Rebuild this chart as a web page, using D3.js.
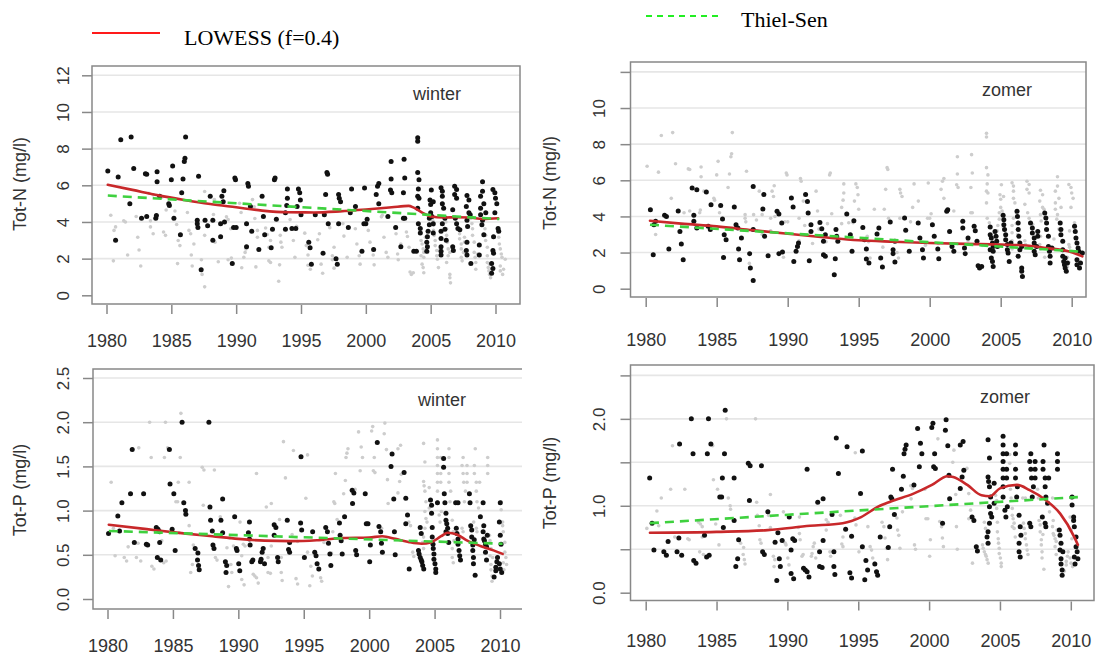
<!DOCTYPE html>
<html>
<head>
<meta charset="utf-8">
<script src="https://cdn.jsdelivr.net/npm/d3@7"></script>
<style>
  html, body { margin: 0; padding: 0; background: #fff; }
  svg { display: block; }
</style>
</head>
<body>
<svg id="chart" width="1101" height="657"></svg>
<script>
// ---------------- DATA ----------------
const yearTicks = [1980, 1985, 1990, 1995, 2000, 2005, 2010];
const nTicks = [0, 2, 4, 6, 8, 10, 12];
const pTicks = [0, 0.5, 1, 1.5, 2, 2.5];
const seasonLabels = ["winter", "zomer"];
const yTitles = ["Tot-N (mg/l)", "Tot-P (mg/l)"];
const legendLabels = ["LOWESS (f=0.4)", "Thiel-Sen"];

const winterN = [[1980.1,6.78],[1980.7,3.0],[1980.9,6.45],[1981.1,8.48],[1981.8,5.0],[1981.9,8.64],[1982.1,6.92],[1982.7,4.2],[1983.0,6.63],[1983.1,6.6],[1983.1,4.3],[1983.8,4.2],[1983.85,4.35],[1983.9,6.2],[1983.9,6.74],[1984.1,5.4],[1984.8,5.0],[1984.85,4.9],[1985.0,6.3],[1985.1,7.05],[1985.2,4.2],[1985.7,3.3],[1985.8,5.6],[1985.9,6.35],[1986.0,7.3],[1986.05,7.47],[1986.1,8.64],[1987.0,4.1],[1987.0,3.9],[1987.05,3.7],[1987.1,6.5],[1987.3,1.4],[1987.6,4.1],[1987.8,3.8],[1988.0,5.4],[1988.2,4.1],[1988.2,3.0],[1988.8,3.9],[1988.9,5.4],[1989.0,5.1],[1989.05,5.7],[1988.8,3.2],[1989.1,4.0],[1989.7,1.74],[1989.8,3.7],[1990.0,3.7],[1989.9,6.4],[1989.95,6.3],[1990.8,3.9],[1990.8,2.65],[1990.9,6.1],[1990.95,5.95],[1991.1,4.85],[1991.2,3.5],[1991.75,2.5],[1992.0,5.4],[1992.1,4.3],[1992.2,3.3],[1992.7,2.6],[1992.8,3.6],[1992.95,6.3],[1993.0,6.4],[1993.1,4.15],[1993.8,4.5],[1993.9,4.9],[1993.95,5.3],[1993.95,5.8],[1993.8,3.6],[1994.3,3.65],[1994.6,3.65],[1994.7,4.85],[1994.8,5.8],[1994.9,5.6],[1994.95,5.2],[1995.0,4.4],[1995.6,2.9],[1995.7,2.6],[1995.8,1.7],[1996.1,4.4],[1996.7,2.3],[1996.8,4.4],[1996.9,5.5],[1997.0,6.7],[1997.05,6.6],[1997.1,3.9],[1997.7,2.0],[1997.8,1.7],[1997.9,3.9],[1997.9,5.5],[1997.95,5.3],[1998.05,5.1],[1998.65,3.7],[1998.8,4.5],[1998.9,5.8],[1999.2,4.85],[1999.7,2.4],[1999.85,3.9],[1999.9,5.85],[2000.0,3.9],[2000.1,4.15],[2000.6,2.5],[2000.8,5.5],[2000.9,5.95],[2001.0,6.1],[2001.0,5.0],[2001.7,4.3],[2001.9,5.75],[2001.95,6.35],[2001.95,7.3],[2002.0,5.6],[2002.3,3.7],[2002.7,2.65],[2002.9,4.2],[2003.0,4.2],[2002.95,7.42],[2003.0,6.4],[2002.9,5.6],[2003.7,2.4],[2003.9,2.4],[2004.0,8.6],[2004.0,8.4],[2004.0,6.7],[2004.1,6.3],[2004.05,5.8],[2004.0,5.4],[2004.1,5.3],[2004.0,4.75],[2004.05,3.9],[2004.2,3.65],[2004.2,3.4],[2004.7,2.4],[2004.75,2.65],[2004.7,2.9],[2004.75,3.2],[2004.8,3.5],[2004.9,3.85],[2004.9,4.2],[2005.0,4.5],[2005.0,4.95],[2004.95,5.2],[2005.05,5.75],[2005.2,5.1],[2005.1,4.3],[2005.2,3.9],[2005.2,3.4],[2005.8,5.86],[2005.9,5.68],[2005.9,5.4],[2005.9,5.0],[2006.0,4.75],[2006.1,4.2],[2005.9,3.9],[2005.8,3.5],[2005.8,3.1],[2005.8,2.65],[2005.8,2.4],[2005.8,2.2],[2006.1,3.6],[2006.2,3.0],[2006.85,5.95],[2007.0,5.77],[2006.85,5.5],[2007.0,5.3],[2006.7,4.67],[2006.9,4.2],[2007.0,3.9],[2007.1,3.65],[2006.7,2.65],[2006.75,2.45],[2007.25,3.57],[2007.8,5.45],[2007.95,5.2],[2007.75,4.85],[2007.95,4.5],[2007.8,4.1],[2007.85,3.75],[2007.8,2.9],[2007.75,2.45],[2007.8,2.2],[2008.1,1.74],[2008.05,4.4],[2009.0,6.2],[2009.0,5.68],[2008.85,5.4],[2009.1,5.0],[2008.85,4.75],[2008.85,4.4],[2009.0,4.1],[2008.95,3.85],[2009.1,3.3],[2008.75,2.75],[2008.75,2.2],[2009.25,4.5],[2009.8,5.77],[2009.95,5.6],[2010.0,5.3],[2010.1,5.0],[2009.95,4.5],[2010.2,3.65],[2010.25,3.5],[2009.85,3.2],[2009.8,2.45],[2009.85,2.3],[2009.7,1.74],[2009.8,1.46],[2009.7,1.2]];

const zomerN = [[1980.33,4.37],[1980.53,1.88],[1980.58,3.54],[1980.7,3.73],[1981.33,4.06],[1981.46,4.0],[1981.63,2.2],[1982.29,4.3],[1982.41,3.17],[1982.51,2.47],[1982.64,1.6],[1983.27,5.57],[1983.6,5.48],[1983.39,4.06],[1983.39,3.73],[1983.6,3.36],[1984.27,5.35],[1984.6,4.65],[1984.4,3.45],[1984.55,3.27],[1985.28,4.6],[1985.41,3.86],[1985.53,2.99],[1985.66,2.71],[1985.48,1.73],[1986.24,4.52],[1986.36,3.54],[1986.49,3.36],[1986.54,2.2],[1986.61,1.6],[1986.74,2.8],[1987.32,1.94],[1987.37,1.14],[1987.57,0.46],[1987.57,5.66],[1987.57,3.27],[1988.32,5.22],[1988.25,4.41],[1988.37,2.9],[1988.62,1.83],[1989.25,4.28],[1989.38,4.13],[1989.58,3.63],[1989.38,1.94],[1989.63,2.03],[1990.26,5.02],[1990.38,4.52],[1990.43,1.5],[1990.59,2.07],[1990.69,2.34],[1990.76,2.53],[1991.26,5.22],[1991.39,4.83],[1991.44,4.19],[1991.52,1.55],[1991.64,3.54],[1991.64,3.17],[1992.27,3.67],[1992.4,3.32],[1992.52,2.62],[1992.65,1.79],[1992.52,1.88],[1992.65,2.99],[1993.28,0.77],[1993.4,3.27],[1993.45,2.9],[1993.35,1.66],[1993.53,2.62],[1994.16,4.13],[1994.41,2.99],[1994.53,2.07],[1994.66,3.76],[1995.29,3.39],[1995.41,2.71],[1995.54,2.2],[1995.54,1.64],[1995.72,1.42],[1996.29,3.03],[1996.42,3.36],[1996.55,1.7],[1996.67,1.2],[1997.22,3.69],[1997.42,2.16],[1997.42,1.94],[1997.55,1.48],[1997.55,2.62],[1998.23,3.91],[1998.31,3.23],[1998.56,2.07],[1999.19,3.63],[1999.31,2.8],[1999.49,2.16],[1999.56,1.7],[2000.19,3.54],[2000.32,2.9],[2000.57,2.2],[2000.64,1.66],[2001.2,4.28],[2001.27,4.37],[2001.4,3.17],[2001.57,2.34],[2001.7,2.07],[2002.33,3.73],[2002.33,3.36],[2002.45,2.25],[2002.5,1.94],[2002.7,2.8],[2003.13,3.45],[2003.21,3.21],[2003.33,2.62],[2003.41,1.27],[2003.51,1.14],[2003.66,1.23],[2004.26,3.41],[2004.26,2.99],[2004.34,2.8],[2004.42,2.53],[2004.47,2.34],[2004.26,2.16],[2004.47,2.07],[2004.34,1.7],[2004.42,1.51],[2004.47,1.23],[2004.6,3.17],[2004.67,2.9],[2004.72,2.62],[2004.77,2.34],[2005.17,4.06],[2005.22,3.82],[2005.22,3.54],[2005.27,3.27],[2005.35,2.99],[2005.35,2.71],[2005.47,2.44],[2005.47,2.16],[2005.52,1.97],[2005.6,1.51],[2005.72,2.53],[2006.15,4.28],[2006.18,4.0],[2006.23,3.63],[2006.23,3.27],[2006.28,2.9],[2006.35,2.53],[2006.35,2.16],[2006.23,1.79],[2006.48,1.14],[2006.48,0.96],[2006.53,0.68],[2006.48,2.34],[2007.1,3.63],[2007.23,3.36],[2007.23,3.08],[2007.36,2.8],[2007.36,2.53],[2007.36,2.07],[2007.43,1.88],[2007.61,3.17],[2007.61,2.9],[2007.53,2.34],[2008.1,4.19],[2008.18,3.91],[2008.23,3.63],[2008.23,3.27],[2008.36,2.9],[2008.36,2.34],[2008.43,2.07],[2008.48,1.79],[2008.48,1.42],[2008.61,2.25],[2009.19,3.63],[2009.24,3.27],[2009.24,2.99],[2009.37,2.62],[2009.37,2.16],[2009.37,1.79],[2009.44,1.51],[2009.49,1.33],[2009.54,1.14],[2009.62,0.96],[2009.7,1.42],[2009.54,1.7],[2010.2,3.45],[2010.25,3.17],[2010.3,2.8],[2010.37,2.53],[2010.45,2.25],[2010.5,2.07],[2010.37,1.6],[2010.37,1.33],[2010.55,1.14],[2010.62,1.42],[2010.75,1.97]];

const winterP = [[1980.08,0.74],[1980.79,0.94],[1980.92,0.77],[1981.1,1.09],[1981.76,1.19],[1981.89,1.69],[1982.05,0.64],[1982.76,1.19],[1982.97,0.62],[1983.07,0.61],[1983.73,0.81],[1983.86,0.79],[1983.81,0.47],[1984.07,0.44],[1983.99,0.76],[1983.99,0.64],[1984.73,1.69],[1984.78,1.3],[1984.94,0.79],[1985.07,1.19],[1985.17,0.55],[1985.7,2.0],[1985.83,1.09],[1985.96,1.0],[1985.99,0.96],[1986.7,0.57],[1986.91,0.52],[1986.88,0.44],[1986.96,0.38],[1987.01,0.33],[1987.75,2.0],[1987.83,1.04],[1987.88,0.89],[1988.01,0.77],[1988.06,0.61],[1988.14,0.57],[1988.67,0.89],[1988.8,1.13],[1988.8,0.75],[1989.01,0.42],[1989.11,0.38],[1989.06,0.3],[1989.72,0.93],[1989.85,0.57],[1989.9,0.55],[1990.03,0.4],[1990.11,0.32],[1990.85,0.87],[1990.77,0.75],[1990.85,0.68],[1990.9,0.61],[1991.03,0.42],[1991.11,0.44],[1991.69,0.42],[1991.74,0.45],[1991.82,0.53],[1991.9,0.57],[1992.0,0.4],[1992.74,0.84],[1992.87,0.81],[1992.74,0.72],[1993.0,0.47],[1993.05,0.42],[1993.74,0.89],[1993.84,0.56],[1993.92,0.53],[1993.92,0.64],[1994.76,0.86],[1994.79,1.61],[1994.84,0.78],[1995.05,0.47],[1995.68,0.76],[1995.84,0.53],[1995.94,0.49],[1996.02,0.4],[1996.15,0.34],[1996.68,0.81],[1996.81,0.76],[1996.89,0.63],[1997.0,0.51],[1997.07,0.38],[1997.73,0.86],[1997.78,0.72],[1997.86,0.66],[1997.94,0.51],[1998.12,0.93],[1998.7,1.23],[1998.83,1.2],[1998.73,1.08],[1998.97,0.55],[1999.04,0.5],[1999.7,1.19],[1999.78,0.85],[1999.91,0.85],[2000.04,0.42],[2000.09,0.61],[2000.62,1.77],[2000.75,0.82],[2000.88,0.76],[2000.94,0.63],[2001.01,0.53],[2001.75,1.64],[2001.67,1.5],[2001.88,1.13],[2001.93,0.76],[2001.99,0.5],[2002.67,1.43],[2002.8,1.14],[2002.93,0.95],[2002.8,0.85],[2003.06,0.34],[2003.77,0.55],[2003.82,0.51],[2003.9,0.47],[2003.98,0.44],[2004.03,0.42],[2004.09,0.38],[2004.17,0.34],[2003.9,0.81],[2003.98,0.74],[2004.69,1.12],[2004.77,1.06],[2004.77,0.97],[2004.82,0.81],[2004.82,0.7],[2004.88,0.62],[2004.9,0.57],[2004.95,0.51],[2004.95,0.45],[2005.03,0.4],[2005.09,0.34],[2005.09,0.3],[2005.22,1.09],[2005.69,1.59],[2005.69,1.49],[2005.74,1.19],[2005.79,1.09],[2005.87,0.97],[2005.87,0.89],[2005.93,0.85],[2006.0,0.8],[2006.0,0.74],[2006.08,0.64],[2005.87,0.76],[2006.61,1.09],[2006.79,1.09],[2006.66,0.8],[2006.71,0.74],[2006.79,0.62],[2006.87,0.55],[2006.92,0.49],[2006.98,0.44],[2006.79,0.68],[2007.66,1.19],[2007.71,1.09],[2007.76,0.83],[2007.84,0.78],[2007.84,0.7],[2007.92,0.61],[2007.92,0.55],[2007.97,0.47],[2007.97,0.4],[2008.1,0.27],[2008.03,0.67],[2008.71,1.09],[2008.5,0.93],[2008.76,0.83],[2008.71,0.76],[2008.76,0.68],[2008.81,0.66],[2008.89,0.62],[2008.97,0.59],[2008.89,0.53],[2008.97,0.44],[2009.03,0.72],[2010.02,1.09],[2009.95,0.87],[2010.02,0.72],[2010.08,0.62],[2009.81,0.47],[2009.76,0.42],[2009.68,0.36],[2009.68,0.32],[2009.55,0.25],[2009.95,0.4],[2010.02,0.34],[2010.13,0.3]];

const zomerP = [[1980.28,1.32],[1980.45,0.8],[1980.58,0.49],[1981.28,0.47],[1981.46,0.43],[1981.58,0.59],[1982.21,0.47],[1982.54,0.43],[1982.39,1.71],[1982.34,0.63],[1983.22,2.0],[1983.34,1.6],[1983.39,0.37],[1983.55,0.34],[1984.15,0.66],[1984.35,1.6],[1984.43,2.0],[1984.6,1.71],[1984.3,0.41],[1984.48,0.43],[1985.23,1.1],[1985.36,1.1],[1985.41,1.32],[1985.48,0.75],[1985.56,1.6],[1985.61,2.1],[1986.24,1.32],[1986.24,0.83],[1986.36,0.3],[1986.49,0.39],[1986.56,0.61],[1987.24,1.49],[1987.37,1.46],[1987.32,1.06],[1988.17,1.46],[1988.25,0.47],[1988.37,0.44],[1988.62,0.93],[1989.13,0.58],[1989.25,0.14],[1989.33,0.69],[1989.43,0.39],[1989.5,0.3],[1989.63,0.6],[1990.13,0.87],[1990.26,0.49],[1990.38,0.62],[1990.51,0.6],[1990.26,0.22],[1990.44,0.16],[1991.14,0.28],[1991.26,0.26],[1991.39,0.24],[1991.52,0.18],[1991.39,1.42],[1992.14,1.04],[1992.52,1.08],[1992.27,0.47],[1992.27,0.3],[1992.45,0.29],[1992.52,0.6],[1993.15,0.9],[1993.28,0.47],[1993.28,0.3],[1993.35,0.21],[1993.45,1.78],[1993.6,1.37],[1994.11,0.73],[1994.21,1.68],[1994.41,0.23],[1994.53,0.17],[1994.53,0.65],[1995.16,1.14],[1995.29,0.53],[1995.29,1.63],[1995.46,0.15],[1995.54,0.37],[1995.66,0.26],[1996.17,0.33],[1996.29,0.24],[1996.37,0.2],[1996.55,0.64],[1997.12,0.52],[1997.22,0.76],[1997.3,1.1],[1997.37,1.08],[1997.42,1.42],[1997.55,0.9],[1998.05,1.19],[1998.18,1.34],[1998.23,1.6],[1998.3,1.65],[1998.38,1.7],[1998.93,1.24],[1999.19,1.89],[1999.31,1.45],[1999.39,1.72],[1999.49,1.6],[2000.19,1.9],[2000.27,1.95],[2000.32,1.45],[2000.44,1.43],[2000.39,1.6],[2000.95,0.8],[2001.15,1.87],[2001.2,1.99],[2001.32,1.69],[2001.4,1.35],[2001.45,1.08],[2002.2,1.7],[2002.4,1.74],[2002.33,1.33],[2002.2,1.2],[2002.45,1.41],[2003.03,0.87],[2003.16,0.83],[2003.33,0.53],[2003.41,0.48],[2004.16,1.76],[2004.26,1.55],[2004.16,1.33],[2004.2,1.28],[2004.26,1.22],[2004.34,1.1],[2004.26,0.99],[2004.34,0.91],[2004.42,0.87],[2004.26,0.8],[2004.16,0.7],[2004.09,0.64],[2004.16,0.57],[2004.59,1.26],[2004.59,1.03],[2005.22,1.8],[2005.22,1.7],[2005.22,1.6],[2005.22,1.51],[2005.22,1.42],[2005.22,1.32],[2005.22,1.22],[2005.22,1.1],[2005.35,0.95],[2005.42,0.87],[2005.52,0.99],[2005.47,1.42],[2005.47,1.32],[2005.47,1.6],[2006.1,1.7],[2006.1,1.6],[2006.1,1.42],[2006.1,1.32],[2006.23,1.22],[2006.18,1.1],[2006.35,0.89],[2006.43,0.76],[2006.48,0.66],[2006.35,0.57],[2006.35,0.47],[2006.43,0.41],[2007.18,1.6],[2007.1,1.51],[2007.18,1.42],[2007.23,1.32],[2007.36,1.22],[2007.28,1.1],[2007.1,0.8],[2007.18,0.76],[2007.48,1.51],[2007.48,1.42],[2007.48,1.32],[2008.11,1.7],[2008.04,1.51],[2008.04,1.42],[2008.19,1.32],[2008.19,1.22],[2008.24,1.1],[2008.36,1.03],[2007.99,0.87],[2008.19,0.8],[2008.24,0.76],[2008.44,1.32],[2009.06,1.6],[2009.06,1.51],[2009.06,1.42],[2009.19,0.72],[2009.24,0.66],[2009.31,0.57],[2009.24,0.49],[2009.31,0.39],[2009.31,0.33],[2009.39,0.26],[2009.39,0.2],[2009.44,0.47],[2010.09,1.1],[2010.09,1.01],[2010.2,0.87],[2010.2,0.83],[2010.25,0.76],[2010.37,0.64],[2010.37,0.53],[2010.25,0.41],[2010.3,0.33],[2010.45,0.47],[2010.5,0.39]];

const lowessWinterN = [[1980.1,6.03],[1982,5.75],[1984,5.45],[1986,5.2],[1988,4.98],[1990,4.8],[1992,4.62],[1994,4.53],[1996,4.52],[1998,4.58],[2000,4.68],[2002,4.8],[2003.3,4.88],[2003.7,4.78],[2004.5,4.45],[2005,4.3],[2006,4.24],[2007,4.26],[2008,4.24],[2009,4.16],[2010.2,4.2]];
const lowessZomerN = [[1980.3,3.76],[1982.5,3.6],[1985,3.45],[1987.5,3.24],[1990,3.04],[1992.5,2.85],[1995,2.68],[1997.5,2.6],[2000,2.53],[2002.5,2.48],[2005,2.44],[2007,2.38],[2008.2,2.25],[2009.75,2.07],[2010.75,1.79]];
const lowessWinterP = [[1980.1,0.84],[1983,0.79],[1986,0.74],[1988,0.71],[1990,0.68],[1992,0.66],[1994,0.655],[1996,0.665],[1998,0.69],[2000,0.695],[2001,0.71],[2002,0.68],[2003,0.645],[2004,0.625],[2004.7,0.64],[2005.5,0.71],[2006,0.75],[2006.7,0.73],[2007.5,0.66],[2008.5,0.6],[2009.5,0.55],[2010.2,0.51]];
const lowessZomerP = [[1980.3,0.69],[1985,0.7],[1988.6,0.72],[1991.6,0.77],[1993.9,0.8],[1995.2,0.87],[1996.4,0.99],[1997.3,1.05],[1998.9,1.14],[2000.2,1.24],[2001.3,1.34],[2001.7,1.33],[2002.7,1.24],[2003.7,1.12],[2004.3,1.11],[2005,1.2],[2006.2,1.24],[2007.1,1.18],[2008.2,1.07],[2009.25,0.91],[2010.25,0.64],[2010.5,0.55]];

const thielWinterN = [[1980.1,5.44],[2010.3,4.16]];
const thielZomerN = [[1980.3,3.54],[2010.7,2.05]];
const thielWinterP = [[1980.1,0.77],[2010.2,0.625]];
const thielZomerP = [[1980.3,0.8],[2010.5,1.1]];

// ---------------- LAYOUT ----------------
const panels = [
  { black: winterN, grey: zomerN, lowess: lowessWinterN, thiel: thielWinterN, ticks: nTicks, yMax: 12,
    label: seasonLabels[0], title: yTitles[0], fmt: d => String(d),
    x0: 106.5, x1: 495.5, y0: 295.3, y1: 75.3, box: [92, 66, 520, 304], right: true,
    labX: 69, titleX: 20, titleY: 184, labY: 347, seasonX: 437, seasonY: 100 },
  { black: zomerN, grey: winterN, lowess: lowessZomerN, thiel: thielZomerN, ticks: nTicks, yMax: 12,
    label: seasonLabels[1], title: yTitles[0], fmt: d => d === 12 ? "" : String(d),
    x0: 645.7, x1: 1071.7, y0: 288.7, y1: 71.9, box: [630.5, 62, 1086, 297], right: true,
    labX: 605, titleX: 550, titleY: 183, labY: 346, seasonX: 1007, seasonY: 96 },
  { black: winterP, grey: zomerP, lowess: lowessWinterP, thiel: thielWinterP, ticks: pTicks, yMax: 2.5,
    label: seasonLabels[0], title: yTitles[1], fmt: d => d.toFixed(1),
    x0: 107.5, x1: 500, y0: 599, y1: 378, box: [93, 369, 522, 609], right: false,
    labX: 69, titleX: 20, titleY: 490, labY: 652, seasonX: 442, seasonY: 406 },
  { black: zomerP, grey: winterP, lowess: lowessZomerP, thiel: thielZomerP, ticks: pTicks, yMax: 2.5,
    label: seasonLabels[1], title: yTitles[1], fmt: d => (d % 1 === 0) ? d.toFixed(1) : "",
    x0: 645.7, x1: 1070.8, y0: 592.7, y1: 375.4, box: [630.5, 365, 1094, 600.5], right: true,
    labX: 605, titleX: 550, titleY: 483, labY: 647, seasonX: 1005, seasonY: 403 }
];

const svg = d3.select("#chart");
const FONT = "'Liberation Sans', Arial, sans-serif";
const AXIS_COL = "#888";
const TEXT_COL = "#333";
const FS = "18px";

panels.forEach(p => {
  const x = d3.scaleLinear().domain([1980, 2010]).range([p.x0, p.x1]);
  const y = d3.scaleLinear().domain([0, p.yMax]).range([p.y0, p.y1]);
  const [bl, bt, br, bb] = p.box;
  const g = svg.append("g");

  // grid lines
  g.selectAll("line.grid").data(p.ticks.filter(t => t > 0)).join("line")
    .attr("x1", bl).attr("x2", br)
    .attr("y1", d => y(d)).attr("y2", d => y(d))
    .attr("stroke", "#e6e6e6").attr("stroke-width", 1.6);

  // grey points (other season)
  g.selectAll("circle.grey").data(p.grey).join("circle")
    .attr("cx", d => x(d[0])).attr("cy", d => y(d[1])).attr("r", 1.8)
    .attr("fill", "#cdcdcd");

  // black points
  g.selectAll("circle.black").data(p.black).join("circle")
    .attr("cx", d => x(d[0])).attr("cy", d => y(d[1])).attr("r", 2.5)
    .attr("fill", "#111");

  // LOWESS
  const line = d3.line().x(d => x(d[0])).y(d => y(d[1])).curve(d3.curveMonotoneX);
  g.append("path").datum(p.lowess).attr("d", line)
    .attr("fill", "none").attr("stroke", "#c8282a").attr("stroke-width", 2.6)
    .attr("stroke-linejoin", "round").attr("stroke-linecap", "round");

  // Thiel-Sen
  g.append("path").datum(p.thiel).attr("d", d3.line().x(d => x(d[0])).y(d => y(d[1])))
    .attr("fill", "none").attr("stroke", "#3fd13f").attr("stroke-width", 2.6)
    .attr("stroke-dasharray", "9,6");

  // box
  const boxPath = p.right
    ? `M${bl},${bt}H${br}V${bb}H${bl}Z`
    : `M${br},${bt}H${bl}V${bb}H${br}`;
  g.append("path").attr("d", boxPath).attr("fill", "none")
    .attr("stroke", AXIS_COL).attr("stroke-width", 1.5);

  // y axis
  const yAxis = d3.axisLeft(y).tickValues(p.ticks).tickFormat(p.fmt).tickSize(10).tickSizeOuter(0);
  const ga = g.append("g").attr("transform", `translate(${bl},0)`).call(yAxis);
  ga.select(".domain").remove();
  ga.selectAll(".tick line").attr("stroke", AXIS_COL).attr("stroke-width", 1.5);
  ga.selectAll(".tick text")
    .attr("x", null).attr("dy", null)
    .attr("transform", `translate(${p.labX - bl},0) rotate(-90)`)
    .attr("text-anchor", "middle")
    .attr("fill", TEXT_COL).style("font-family", FONT).style("font-size", "17px");

  // x axis
  const xAxis = d3.axisBottom(x).tickValues(yearTicks).tickFormat(d3.format("d")).tickSize(9).tickSizeOuter(0);
  const gx = g.append("g").attr("transform", `translate(0,${bb + 1})`).call(xAxis);
  gx.select(".domain").remove();
  gx.selectAll(".tick line").attr("stroke", AXIS_COL).attr("stroke-width", 1.5);
  gx.selectAll(".tick text")
    .attr("y", p.labY - bb - 1).attr("dy", null)
    .attr("fill", TEXT_COL).style("font-family", FONT).style("font-size", FS);

  // y title
  g.append("text")
    .attr("transform", `translate(${p.titleX + 6},${p.titleY}) rotate(-90)`)
    .attr("text-anchor", "middle")
    .attr("fill", TEXT_COL).style("font-family", FONT).style("font-size", FS)
    .text(p.title);

  // season label
  g.append("text")
    .attr("x", p.seasonX).attr("y", p.seasonY)
    .attr("text-anchor", "middle")
    .attr("fill", TEXT_COL).style("font-family", FONT).style("font-size", FS)
    .text(p.label);
});

// ---------------- LEGEND ----------------
const SERIF = "'Liberation Serif', 'Times New Roman', serif";
svg.append("line").attr("x1", 92).attr("x2", 160).attr("y1", 33).attr("y2", 33)
  .attr("stroke", "#ff1a1a").attr("stroke-width", 2.2);
svg.append("text").attr("x", 184).attr("y", 45)
  .style("font-family", SERIF).style("font-size", "22px").attr("fill", "#000")
  .text(legendLabels[0]);
svg.append("line").attr("x1", 646).attr("x2", 718).attr("y1", 16).attr("y2", 16)
  .attr("stroke", "#22ee22").attr("stroke-width", 2).attr("stroke-dasharray", "6,5");
svg.append("text").attr("x", 741).attr("y", 27)
  .style("font-family", SERIF).style("font-size", "22px").attr("fill", "#000")
  .text(legendLabels[1]);
</script>
</body>
</html>
